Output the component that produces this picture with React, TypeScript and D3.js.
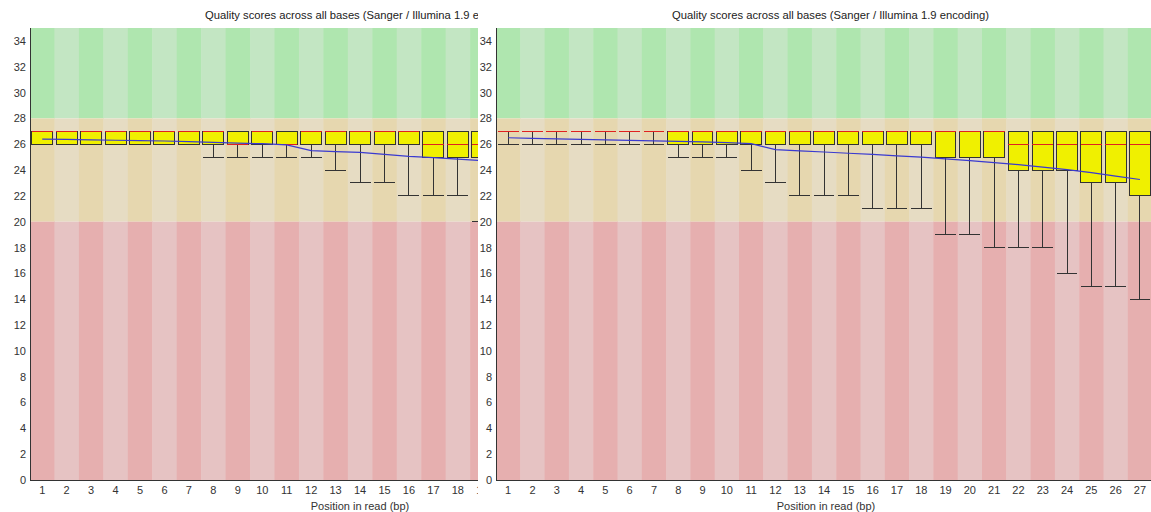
import React, { useEffect, useRef } from 'react';
import * as d3 from 'd3';

const TITLE = 'Quality scores across all bases (Sanger / Illumina 1.9 encoding)';
const X_LABEL = 'Position in read (bp)';
const yTicks = [0, 2, 4, 6, 8, 10, 12, 14, 16, 18, 20, 22, 24, 26, 28, 30, 32, 34];

// left chart (cut off at position 19)
const leftPositions = ['1', '2', '3', '4', '5', '6', '7', '8', '9', '10', '11', '12', '13', '14', '15', '16', '17', '18', '19'];
const leftMedian = [27, 27, 27, 27, 27, 27, 27, 27, 26, 27, 26, 27, 27, 27, 27, 27, 26, 26, 26];
const leftQ1 = [26, 26, 26, 26, 26, 26, 26, 26, 26, 26, 26, 26, 26, 26, 26, 26, 25, 25, 25];
const leftQ3 = [27, 27, 27, 27, 27, 27, 27, 27, 27, 27, 27, 27, 27, 27, 27, 27, 27, 27, 27];
const leftP10 = [26, 26, 26, 26, 26, 26, 26, 25, 25, 25, 25, 25, 24, 23, 23, 22, 22, 22, 20];
const leftP90 = [27, 27, 27, 27, 27, 27, 27, 27, 27, 27, 27, 27, 27, 27, 27, 27, 27, 27, 27];
const leftMean = [26.4, 26.37, 26.34, 26.31, 26.28, 26.25, 26.2, 26.15, 26.08, 26.04, 25.95, 25.5, 25.43, 25.37, 25.22, 25.06, 24.96, 24.85, 24.72];

// right chart
const rightPositions = ['1', '2', '3', '4', '5', '6', '7', '8', '9', '10', '11', '12', '13', '14', '15', '16', '17', '18', '19', '20', '21', '22', '23', '24', '25', '26', '27'];
const rightMedian = [27, 27, 27, 27, 27, 27, 27, 27, 27, 27, 27, 27, 27, 27, 27, 27, 27, 27, 27, 27, 27, 26, 26, 26, 26, 26, 26];
const rightQ1 = [27, 27, 27, 27, 27, 27, 27, 26, 26, 26, 26, 26, 26, 26, 26, 26, 26, 26, 25, 25, 25, 24, 24, 24, 23, 23, 22];
const rightQ3 = [27, 27, 27, 27, 27, 27, 27, 27, 27, 27, 27, 27, 27, 27, 27, 27, 27, 27, 27, 27, 27, 27, 27, 27, 27, 27, 27];
const rightP10 = [26, 26, 26, 26, 26, 26, 26, 25, 25, 25, 24, 23, 22, 22, 22, 21, 21, 21, 19, 19, 18, 18, 18, 16, 15, 15, 14];
const rightP90 = [27, 27, 27, 27, 27, 27, 27, 27, 27, 27, 27, 27, 27, 27, 27, 27, 27, 27, 27, 27, 27, 27, 27, 27, 27, 27, 27];
const rightMean = [26.5, 26.46, 26.42, 26.38, 26.34, 26.3, 26.26, 26.22, 26.18, 26.12, 26.05, 25.58, 25.48, 25.4, 25.3, 25.22, 25.1, 25.0, 24.86, 24.73, 24.57, 24.42, 24.23, 24.03, 23.8, 23.53, 23.27];

const FONT = '"Liberation Sans", Arial, sans-serif';

const drawPanel = (svg, p, id) => {
    const n = p.positions.length;
    const y = d3.scaleLinear().domain([0, 35]).range([480, 28]);
    const xs = d3.scaleBand().domain(p.positions).range([p.axisX, p.axisX + p.step * n]).padding(0);
    const xb = d3.scaleBand().domain(p.positions).range([p.axisX, p.axisX + p.step * n])
        .paddingInner(0.14).paddingOuter(0.07);

    svg.append('clipPath').attr('id', id)
        .append('rect').attr('x', p.clipLeft).attr('y', 0)
        .attr('width', p.clipRight - p.clipLeft).attr('height', 512);

    const g = svg.append('g').attr('clip-path', `url(#${id})`);

    // background stripes
    const bands = [
        { lo: 28, hi: 35, dark: 'rgb(175,230,175)', light: 'rgb(195,230,195)' },
        { lo: 20, hi: 28, dark: 'rgb(230,215,175)', light: 'rgb(230,220,195)' },
        { lo: 0, hi: 20, dark: 'rgb(230,175,175)', light: 'rgb(230,195,195)' },
    ];
    bands.forEach(b => {
        g.selectAll(null).data(p.positions).enter().append('rect')
            .attr('x', d => xs(d))
            .attr('y', y(b.hi))
            .attr('width', xs.bandwidth() + 0.5)
            .attr('height', y(b.lo) - y(b.hi))
            .attr('fill', (d, i) => (i % 2 === 0 ? b.dark : b.light));
    });

    const rows = p.positions.map((pos, i) => ({
        pos, med: p.median[i], q1: p.q1[i], q3: p.q3[i], lo: p.p10[i], hi: p.p90[i], mean: p.mean[i],
    }));
    const cx = d => xb(d.pos) + xb.bandwidth() / 2;

    // whiskers
    const wh = g.append('g').attr('stroke', '#333').attr('stroke-width', 1).attr('shape-rendering', 'crispEdges');
    rows.forEach(d => {
        wh.append('line').attr('x1', cx(d)).attr('x2', cx(d)).attr('y1', y(d.q1)).attr('y2', y(d.lo));
        wh.append('line').attr('x1', cx(d)).attr('x2', cx(d)).attr('y1', y(d.q3)).attr('y2', y(d.hi));
        wh.append('line').attr('x1', xb(d.pos)).attr('x2', xb(d.pos) + xb.bandwidth()).attr('y1', y(d.lo)).attr('y2', y(d.lo));
        wh.append('line').attr('x1', xb(d.pos)).attr('x2', xb(d.pos) + xb.bandwidth()).attr('y1', y(d.hi)).attr('y2', y(d.hi));
    });

    // boxes
    g.selectAll(null).data(rows).enter().append('rect')
        .attr('x', d => xb(d.pos))
        .attr('y', d => y(d.q3))
        .attr('width', xb.bandwidth())
        .attr('height', d => y(d.q1) - y(d.q3))
        .attr('fill', '#f0f000')
        .attr('stroke', '#333')
        .attr('shape-rendering', 'crispEdges');

    // medians
    g.selectAll(null).data(rows).enter().append('line')
        .attr('x1', d => xb(d.pos))
        .attr('x2', d => xb(d.pos) + xb.bandwidth())
        .attr('y1', d => y(d.med))
        .attr('y2', d => y(d.med))
        .attr('stroke', '#e02020')
        .attr('shape-rendering', 'crispEdges');

    // mean line
    g.append('path')
        .datum(rows)
        .attr('fill', 'none')
        .attr('stroke', '#3a3ad0')
        .attr('stroke-width', 1.2)
        .attr('d', d3.line().x(d => xs(d.pos) + xs.bandwidth() / 2).y(d => y(d.mean)));

    // axes
    const end = Math.min(p.axisX + p.step * n, p.clipRight);
    g.append('line').attr('x1', p.axisX + 0.5).attr('x2', p.axisX + 0.5).attr('y1', 28).attr('y2', 480.5)
        .attr('stroke', '#333');
    g.append('line').attr('x1', p.axisX).attr('x2', end).attr('y1', 480.5).attr('y2', 480.5)
        .attr('stroke', '#333');

    // y tick labels
    g.selectAll(null).data(yTicks).enter().append('text')
        .attr('x', p.yLabelX)
        .attr('y', d => y(d))
        .attr('dy', '0.36em')
        .attr('text-anchor', 'end')
        .attr('font-family', FONT)
        .attr('font-size', 11)
        .attr('fill', '#333')
        .text(d => d);

    // x tick labels
    g.selectAll(null).data(p.positions).enter().append('text')
        .attr('x', d => xs(d) + xs.bandwidth() / 2)
        .attr('y', 494)
        .attr('text-anchor', 'middle')
        .attr('font-family', FONT)
        .attr('font-size', 11)
        .attr('fill', '#333')
        .text(d => d);

    g.append('text')
        .attr('x', p.xLabelX)
        .attr('y', 510)
        .attr('text-anchor', 'middle')
        .attr('font-family', FONT)
        .attr('font-size', 11)
        .attr('fill', '#333')
        .text(X_LABEL);

    g.append('text')
        .attr('x', p.titleX)
        .attr('y', 19)
        .attr('font-family', FONT)
        .attr('font-size', 11)
        .attr('fill', '#222')
        .attr('textLength', 317)
        .attr('lengthAdjust', 'spacingAndGlyphs')
        .text(TITLE);
};

const App = () => {
    const svgRef = useRef(null);

    useEffect(() => {
        const svg = d3.select(svgRef.current);
        svg.selectAll('*').remove();

        svg.append('rect').attr('width', 1151).attr('height', 512).attr('fill', '#fff');

        drawPanel(svg, {
            positions: leftPositions, median: leftMedian, q1: leftQ1, q3: leftQ3,
            p10: leftP10, p90: leftP90, mean: leftMean,
            axisX: 30, step: 24.45, clipLeft: 0, clipRight: 478,
            titleX: 205, xLabelX: 360, yLabelX: 26,
        }, 'clipL');

        drawPanel(svg, {
            positions: rightPositions, median: rightMedian, q1: rightQ1, q3: rightQ3,
            p10: rightP10, p90: rightP90, mean: rightMean,
            axisX: 496, step: 24.3, clipLeft: 478, clipRight: 1151,
            titleX: 672, xLabelX: 826, yLabelX: 492,
        }, 'clipR');
    }, []);

    return (
        <svg ref={svgRef} width={1151} height={512}
            style={{ position: 'absolute', left: 0, top: 0, display: 'block' }}></svg>
    );
};

export default App;
